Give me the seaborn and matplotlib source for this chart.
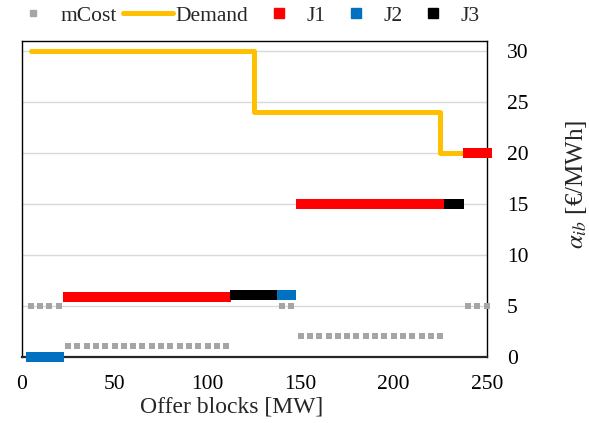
import matplotlib
matplotlib.use("Agg")
import matplotlib.pyplot as plt
import seaborn as sns
import pandas as pd
from matplotlib.lines import Line2D

# ---- data ----
mcost_x = [5, 10, 15, 20,
           25, 30, 35, 40, 45, 50, 55, 60, 65, 70, 75, 80, 85, 90, 95, 100, 105, 110,
           140, 145,
           150, 155, 160, 165, 170, 175, 180, 185, 190, 195, 200, 205, 210, 215, 220, 225,
           240, 245, 250]
mcost_y = [5, 5, 5, 5,
           1, 1, 1, 1, 1, 1, 1, 1, 1, 1, 1, 1, 1, 1, 1, 1, 1, 1,
           5, 5,
           2, 2, 2, 2, 2, 2, 2, 2, 2, 2, 2, 2, 2, 2, 2, 2,
           5, 5, 5]

demand_x = [5, 125, 125, 225, 225, 237]
demand_y = [30, 30, 24, 24, 20, 20]

j1_x = [25, 30, 35, 40, 45, 50, 55, 60, 65, 70, 75, 80, 85, 90, 95, 100, 105, 110,
        150, 155, 160, 165, 170, 175, 180, 185, 190, 195, 200, 205, 210, 215, 220, 225,
        240, 245, 250]
j1_y = [5.8] * 18 + [15] * 16 + [20] * 3

j2_x = [5, 10, 15, 20, 140, 145]
j2_y = [0, 0, 0, 0, 6.0, 6.0]

j3_x = [115, 120, 125, 130, 135, 230, 235]
j3_y = [6.0, 6.0, 6.0, 6.0, 6.0, 15, 15]

x_ticks = [0, 50, 100, 150, 200, 250]
y_ticks = [0, 5, 10, 15, 20, 25, 30]

C_MCOST = "#A5A5A5"
C_DEMAND = "#FFC000"
C_J1 = "#FF0000"
C_J2 = "#0070C0"
C_J3 = "#000000"

sns.set_style("white")
plt.rcParams["font.family"] = ["Liberation Serif", "DejaVu Serif"]
plt.rcParams["mathtext.fontset"] = "stix"

fig = plt.figure(figsize=(5.89, 4.23), dpi=100)
ax = fig.add_axes([21.5 / 589, 1 - 356.5 / 423, (486.7 - 21.5) / 589, (356.5 - 41) / 423])

for yv in y_ticks[1:]:
    ax.axhline(yv, color="#D9D9D9", lw=1.0, zorder=0)

big = 52
small = 17
sns.scatterplot(x=mcost_x, y=mcost_y, ax=ax, marker="s", s=small, color=C_MCOST,
                linewidth=0, clip_on=False, zorder=3)
sns.lineplot(x=demand_x, y=demand_y, ax=ax, sort=False, estimator=None, color=C_DEMAND,
             lw=3.6, solid_capstyle="round", solid_joinstyle="round", zorder=4)
sns.scatterplot(x=j1_x, y=j1_y, ax=ax, marker="s", s=big, color=C_J1, linewidth=0,
                clip_on=False, zorder=5)
sns.scatterplot(x=j3_x, y=j3_y, ax=ax, marker="s", s=big, color=C_J3, linewidth=0,
                clip_on=False, zorder=5)
sns.scatterplot(x=j2_x, y=j2_y, ax=ax, marker="s", s=big, color=C_J2, linewidth=0,
                clip_on=False, zorder=6)

ax.set_xlim(0, 250)
ax.set_ylim(0, 31)
ax.set_xticks(x_ticks)
ax.set_yticks(y_ticks)
ax.yaxis.tick_right()
ax.yaxis.set_label_position("right")
ax.tick_params(axis="both", length=0, labelsize=15.5, colors="black")
ax.tick_params(axis="x", pad=13.5)
ax.tick_params(axis="y", pad=14.5)

for s in ["left", "right", "top"]:
    ax.spines[s].set_color("black")
    ax.spines[s].set_linewidth(1.0)
    ax.spines[s].set_visible(True)
ax.spines["bottom"].set_color("#262626")
ax.spines["bottom"].set_linewidth(1.6)

ax.set_xlabel("Offer blocks [MW]", fontsize=17)
ax.xaxis.set_label_coords(0.4525, -0.128)
ax.set_ylabel(r"$\alpha_{ib}$ [€/MWh]", fontsize=18)
ax.yaxis.set_label_coords(1.166, 0.545)

handles = [
    Line2D([], [], marker="s", ls="", color=C_MCOST, markersize=4.1),
    Line2D([], [], color=C_DEMAND, lw=3.6, solid_capstyle="round"),
    Line2D([], [], marker="s", ls="", color=C_J1, markersize=7.2),
    Line2D([], [], marker="s", ls="", color=C_J2, markersize=7.2),
    Line2D([], [], marker="s", ls="", color=C_J3, markersize=7.2),
]
labels = ["mCost", "Demand", "J1", "J2", "J3"]
fig.legend(handles, labels, loc="center left", bbox_to_anchor=(8 / 589, 1 - 16 / 423),
           ncol=5, frameon=False, fontsize=15.5, handlelength=2.35, handletextpad=0.1,
           columnspacing=0.25, borderpad=0, borderaxespad=0)

fig.savefig("out.png", dpi=100)
